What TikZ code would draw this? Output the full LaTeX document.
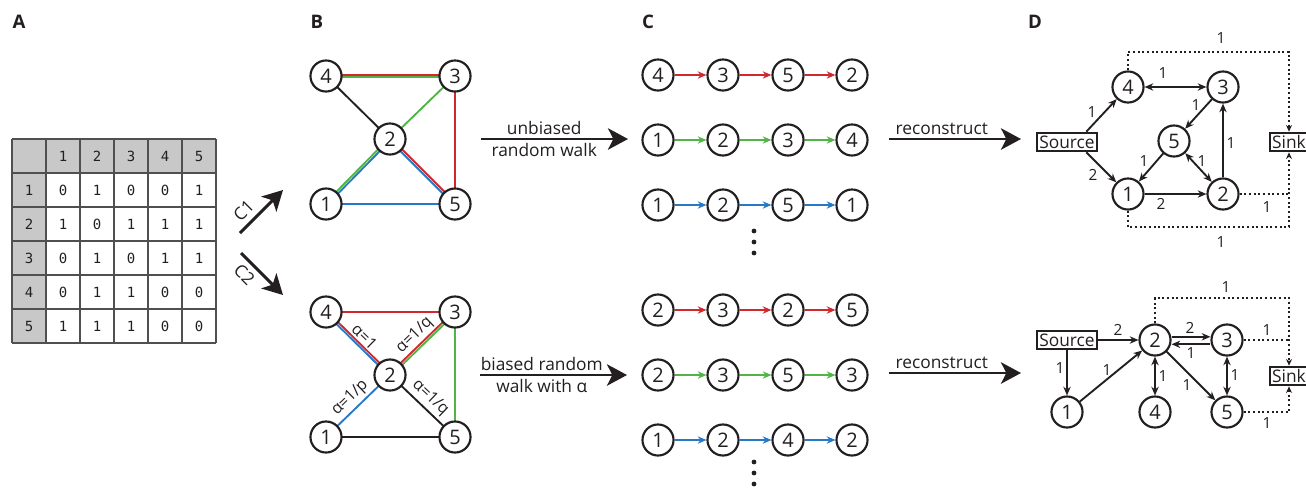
\documentclass[tikz,border=0pt]{standalone}
\usepackage{fontspec}
\setmainfont{Open Sans}
\setmonofont{DejaVu Sans Mono}
\usetikzlibrary{arrows.meta,calc}
\pgfdeclarelayer{bg}
\pgfdeclarelayer{paper}
\pgfsetlayers{paper,bg,main}
\definecolor{wred}{HTML}{D2282D}
\definecolor{wgreen}{HTML}{50B446}
\definecolor{wblue}{HTML}{2878C8}
\definecolor{cellgray}{HTML}{C8C8C8}
\definecolor{gridc}{HTML}{505050}
\definecolor{ink}{HTML}{231F20}
\tikzset{
  vtx/.style={circle, draw=ink, fill=white, line width=1.6pt, minimum size=23.3pt, inner sep=0pt, text=ink, font=\fontsize{15}{15}\selectfont},
  panel/.style={text=ink, font=\bfseries\fontsize{14}{14}\selectfont},
  tnum/.style={text=ink, inner sep=0pt, font=\ttfamily\fontsize{10.5}{10.5}\selectfont},
  gridline/.style={draw=gridc, line width=0.9pt},
  ew/.style={line width=1.4pt},
  walk/.style={line width=1.2pt, -{Stealth[length=6.5pt,width=5.5pt]}},
  bigarrow/.style={draw=ink, line width=2.2pt, -{Stealth[length=15pt,width=16pt,inset=4pt]}},
  btxt/.style={text=ink, inner sep=1pt, font=\fontsize{13}{13}\selectfont},
  alab/.style={text=ink, inner sep=1pt, font=\fontsize{12}{12}\selectfont},
  box/.style={draw=ink, fill=white, line width=1.5pt, inner xsep=2pt, inner ysep=0.5pt, minimum height=14pt, text=ink, font=\fontsize{13}{13}\selectfont},
  dar/.style={draw=ink, line width=1.4pt, -{Stealth[length=6.5pt,width=5.5pt]}},
  dar2/.style={draw=ink, line width=1.4pt, {Stealth[length=6.5pt,width=5.5pt]}-{Stealth[length=6.5pt,width=5.5pt]}},
  dotl/.style={draw=ink, line width=1.4pt, dash pattern=on 1.6pt off 1.9pt},
  lab/.style={text=ink, inner sep=0pt, font=\fontsize{11.5}{11.5}\selectfont},
  dotn/.style={circle, fill=ink, inner sep=0pt, minimum size=3.6pt}
}
\begin{document}
\begin{tikzpicture}[x=0.75pt,y=-0.75pt]
\useasboundingbox (0,0) rectangle (1306,487);
\begin{pgfonlayer}{paper}
\fill[white] (0,0) rectangle (1306,487);
\end{pgfonlayer}

% panel letters
\node[panel] (pA) at (19,22) {A};
\node[panel] (pB) at (317,22) {B};
\node[panel] (pC) at (648,22) {C};
\node[panel] (pD) at (1035,22) {D};

% ---------- A: table
\fill[cellgray] (12,139) rectangle (216,173);
\fill[cellgray] (12,139) rectangle (46,343);
\foreach \i in {0,...,6} {
  \draw[gridline] ({12+34*\i},139) -- ({12+34*\i},343);
  \draw[gridline] (12,{139+34*\i}) -- (216,{139+34*\i});
}
\foreach \c in {1,...,5} {
  \node[tnum] (h\c) at ({29+34*\c},156) {\c};
  \node[tnum] (r\c) at (29,{156+34*\c}) {\c};
}
\foreach \r/\row in {1/{0,1,0,0,1},2/{1,0,1,1,1},3/{0,1,0,1,1},4/{0,1,1,0,0},5/{1,1,1,0,0}} {
  \foreach \v [count=\c] in \row {
    \node[tnum] (t\r-\c) at ({29+34*\c},{156+34*\r}) {\v};
  }
}

% C1 / C2 arrows
\coordinate (a1s) at (240,233);
\coordinate (a1e) at (283,190);
\coordinate (a2s) at (241,253);
\coordinate (a2e) at (283,295);
\draw[bigarrow] (a1s) -- (a1e) node[pos=0.3, sloped, above=3pt, btxt] {C1};
\draw[bigarrow] (a2s) -- (a2e) node[pos=0.3, sloped, below=3pt, btxt] {C2};

% ---------- B top
\node[vtx] (b4) at (326,76) {4};
\node[vtx] (b3) at (455,76) {3};
\node[vtx] (b2) at (390,139) {2};
\node[vtx] (b1) at (326,204) {1};
\node[vtx] (b5) at (455,204) {5};
\begin{pgfonlayer}{bg}
\draw[wred, ew, transform canvas={yshift=0.9pt}] (b4.center) -- (b3.center);
\draw[wgreen, ew, transform canvas={yshift=-0.9pt}] (b4.center) -- (b3.center);
\draw[ink, ew] (b4.center) -- (b2.center);
\draw[wgreen, ew] (b2.center) -- (b3.center);
\draw[wred, ew] (b3.center) -- (b5.center);
\draw[wred, ew, transform canvas={shift={(0.64pt,0.64pt)}}] (b2.center) -- (b5.center);
\draw[wblue, ew, transform canvas={shift={(-0.64pt,-0.64pt)}}] (b2.center) -- (b5.center);
\draw[wgreen, ew, transform canvas={shift={(-0.64pt,0.64pt)}}] (b2.center) -- (b1.center);
\draw[wblue, ew, transform canvas={shift={(0.64pt,-0.64pt)}}] (b2.center) -- (b1.center);
\draw[wblue, ew] (b1.center) -- (b5.center);
\end{pgfonlayer}

% ---------- B bottom
\node[vtx] (g4) at (326,312) {4};
\node[vtx] (g3) at (455,312) {3};
\node[vtx] (g2) at (390,375) {2};
\node[vtx] (g1) at (326,437) {1};
\node[vtx] (g5) at (455,437) {5};
\begin{pgfonlayer}{bg}
\draw[wred, ew] (g4.center) -- (g3.center);
\draw[wred, ew, transform canvas={shift={(0.64pt,0.64pt)}}] (g4.center) -- (g2.center);
\draw[wblue, ew, transform canvas={shift={(-0.64pt,-0.64pt)}}] (g4.center) -- (g2.center);
\draw[wred, ew, transform canvas={shift={(-0.64pt,0.64pt)}}] (g2.center) -- (g3.center);
\draw[wgreen, ew, transform canvas={shift={(0.64pt,-0.64pt)}}] (g2.center) -- (g3.center);
\draw[wgreen, ew] (g3.center) -- (g5.center);
\draw[wblue, ew] (g1.center) -- (g2.center);
\draw[ink, ew] (g2.center) -- (g5.center);
\draw[ink, ew] (g1.center) -- (g5.center);
\end{pgfonlayer}
\path (g4) -- (g2) node[midway, sloped, above=1.5pt, alab] {α=1};
\path (g2) -- (g3) node[midway, sloped, above=1.5pt, alab] {α=1/q};
\path (g1) -- (g2) node[midway, sloped, above=1.5pt, alab] {α=1/p};
\path (g2) -- (g5) node[midway, sloped, above=1.5pt, alab] {α=1/q};

% ---------- B -> C arrows
\coordinate (u1) at (481,139);
\coordinate (u2) at (628,139);
\draw[bigarrow] (u1) -- (u2)
  node[pos=0.43, above=1pt, btxt] {unbiased}
  node[pos=0.43, below=1pt, btxt] {random walk};
\coordinate (v1) at (480,375);
\coordinate (v2) at (627,375);
\draw[bigarrow] (v1) -- (v2)
  node[pos=0.42, above=1pt, btxt] {biased random}
  node[pos=0.42, below=1pt, btxt] {walk with α};

% ---------- C chains
\foreach \r/\y/\clr/\a/\b/\c/\d in {1/75/wred/4/3/5/2, 2/140/wgreen/1/2/3/4, 3/205/wblue/1/2/5/1, 4/310/wred/2/3/2/5, 5/375/wgreen/2/3/5/3, 6/440/wblue/1/2/4/2} {
  \node[vtx] (c\r-1) at (658,\y) {\a};
  \node[vtx] (c\r-2) at (723,\y) {\b};
  \node[vtx] (c\r-3) at (788,\y) {\c};
  \node[vtx] (c\r-4) at (852,\y) {\d};
  \draw[walk, \clr] (c\r-1) -- (c\r-2);
  \draw[walk, \clr] (c\r-2) -- (c\r-3);
  \draw[walk, \clr] (c\r-3) -- (c\r-4);
}
\node[dotn] (dt1) at (754,231) {};
\node[dotn] (dt2) at (754,242) {};
\node[dotn] (dt3) at (754,253) {};
\node[dotn] (dt4) at (754,462) {};
\node[dotn] (dt5) at (754,473) {};
\node[dotn] (dt6) at (754,484) {};

% ---------- C -> D arrows
\coordinate (w1) at (889,139);
\coordinate (w2) at (1021,139);
\draw[bigarrow] (w1) -- (w2) node[pos=0.4, above=1pt, btxt] {reconstruct};
\coordinate (x1) at (889,373);
\coordinate (x2) at (1021,373);
\draw[bigarrow] (x1) -- (x2) node[pos=0.4, above=1pt, btxt] {reconstruct};

% ---------- D top
\node[vtx] (d4) at (1128,87) {4};
\node[vtx] (d3) at (1223,87) {3};
\node[vtx] (d5) at (1174,141) {5};
\node[vtx] (d1) at (1128,194) {1};
\node[vtx] (d2) at (1223,194) {2};
\node[box] (src) at (1067,142) {Source};
\node[box] (sink) at (1289,142) {Sink};
\draw[dar] ([xshift=-9pt]src.north east) -- (d4) node[lab] at (1092,112) {1};
\draw[dar] ([xshift=-9pt]src.south east) -- (d1) node[lab] at (1093,175) {2};
\draw[dar2] (d4) -- (d3) node[lab] at (1163,73) {1};
\draw[dar] (d3) -- (d5) node[lab] at (1196,105) {1};
\draw[dar] (d5) -- (d1) node[lab] at (1144,161) {1};
\draw[dar2] (d5) -- (d2) node[lab] at (1202,161) {1};
\draw[dar] (d2) -- (d3) node[lab] at (1231,143) {1};
\draw[dar] (d1) -- (d2) node[lab] at (1161,204) {2};
\coordinate (k1) at (1289,52);
\coordinate (k2) at (1289,227);
\draw[dotl, -{Stealth[length=5pt,width=4.5pt]}] (d4.north) |- (k1) -- (sink.north) node[lab] at (1221,38) {1};
\draw[dotl] (d2.east) -- (d2.east -| k2) node[lab] at (1267,207) {1};
\draw[dotl, -{Stealth[length=5pt,width=4.5pt]}] (d1.south) |- (k2) -- (sink.south) node[lab] at (1221,242) {1};

% ---------- D bottom
\node[box] (srcb) at (1067,340) {Source};
\node[vtx] (e2) at (1155,340) {2};
\node[vtx] (e3) at (1227,340) {3};
\node[vtx] (e1) at (1067,412) {1};
\node[vtx] (e4) at (1155,412) {4};
\node[vtx] (e5) at (1227,412) {5};
\node[box] (sinkb) at (1289,376) {Sink};
\draw[dar] (srcb.east) -- (e2) node[lab] at (1118,330) {2};
\draw[dar] (srcb.south) -- (e1) node[lab] at (1060,368) {1};
\draw[dar] (e1) -- (e2) node[lab] at (1107,370) {1};
\draw[dar] ([yshift=2.4pt]e2.east) -- ([yshift=2.4pt]e3.west) node[lab] at (1190,328) {2};
\draw[dar] ([yshift=-3.2pt]e3.west) -- ([yshift=-3.2pt]e2.east) node[lab] at (1191,353) {1};
\draw[dar2] (e2) -- (e4) node[lab] at (1163,376) {1};
\draw[dar] (e2) -- (e5) node[lab] at (1187,385) {1};
\draw[dar2] (e3) -- (e5) node[lab] at (1235,375) {1};
\coordinate (k3) at (1289,298);
\draw[dotl, -{Stealth[length=5pt,width=4.5pt]}] (e2.north) |- (k3) -- (sinkb.north) node[lab] at (1226,287) {1};
\draw[dotl] (e3.east) -- (e3.east -| k3) node[lab] at (1267,330) {1};
\draw[dotl, -{Stealth[length=5pt,width=4.5pt]}] (e5.east) -| (sinkb.south) node[lab] at (1267,423) {1};
\end{tikzpicture}
\end{document}
